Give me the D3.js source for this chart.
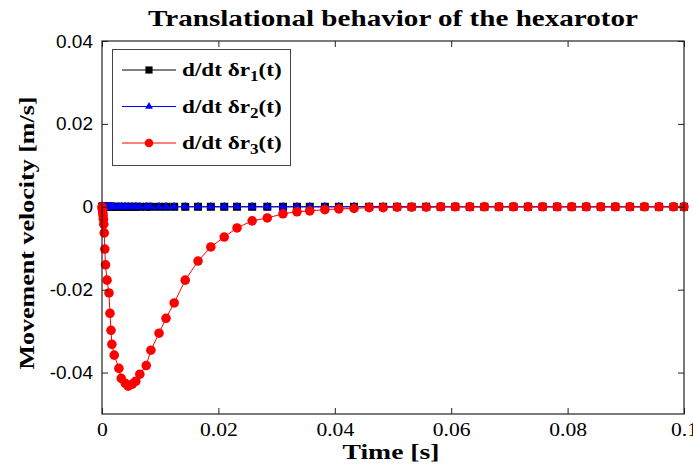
<!DOCTYPE html>
<html>
<head>
<meta charset="utf-8">
<script src="https://cdn.jsdelivr.net/npm/d3@7"></script>
<style>
  body { margin: 0; background: #fff; }
  svg { display: block; }
</style>
</head>
<body>
<svg id="chart" width="693" height="465"></svg>
<script>
// shared time vector [s]
var time = [0, 0.00004, 0.00008, 0.00013, 0.00018, 0.00024, 0.0003, 0.00038, 0.00048, 0.0006,
	0.00086, 0.0012, 0.00137, 0.00155, 0.0017, 0.0021, 0.0029, 0.0033, 0.0040, 0.0045,
	0.0052, 0.0058, 0.0065, 0.0076, 0.0084, 0.0098, 0.0110, 0.0124, 0.0143, 0.0165,
	0.0187, 0.0210, 0.0232, 0.0258, 0.0284, 0.0311, 0.0335, 0.0357, 0.0383, 0.0407,
	0.0433, 0.0459, 0.0483, 0.0507, 0.0532, 0.0557, 0.0582, 0.0607, 0.0632, 0.0657,
	0.0682, 0.0707, 0.0732, 0.0757, 0.0782, 0.0807, 0.0832, 0.0857, 0.0882, 0.0907,
	0.0932, 0.0957, 0.0982, 0.1]

var r1 = [0, 0, 0, 0, 0, 0, 0, 0, 0, 0,
	0, 0, 0, 0, 0, 0, 0, 0, 0, 0,
	0, 0, 0, 0, 0, 0, 0, 0, 0, 0,
	0, 0, 0, 0, 0, 0, 0, 0, 0, 0,
	0, 0, 0, 0, 0, 0, 0, 0, 0, 0,
	0, 0, 0, 0, 0, 0, 0, 0, 0, 0,
	0, 0, 0, 0]

var r2 = [0, 0, 0, 0, 0, 0, 0, 0, 0, 0,
	0, 0, 0, 0, 0, 0, 0, 0, 0, 0,
	0, 0, 0, 0, 0, 0, 0, 0, 0, 0,
	0, 0, 0, 0, 0, 0, 0, 0, 0, 0,
	0, 0, 0, 0, 0, 0, 0, 0, 0, 0,
	0, 0, 0, 0, 0, 0, 0, 0, 0, 0,
	0, 0, 0, 0]

var r3 = [0, -0.0003, -0.0008, -0.0014, -0.0021, -0.0030, -0.0042, -0.0063, -0.0102, -0.0140,
	-0.0177, -0.0208, -0.0257, -0.0298, -0.0332, -0.0358, -0.0390, -0.0414, -0.0426, -0.0433,
	-0.0428, -0.0421, -0.0404, -0.0383, -0.0346, -0.0305, -0.0269, -0.0232, -0.0177, -0.0131,
	-0.0097, -0.0073, -0.0051, -0.0034, -0.0027, -0.0017, -0.0012, -0.0010, -0.0007, -0.0005,
	-0.0004, -0.0002, -0.0002, -0.0001, -0.0001, -0.0001, 0, 0, 0, 0,
	0, 0, 0, 0, 0, 0, 0, 0, 0, 0,
	0, 0, 0, 0]

var xTicks = [0, 0.02, 0.04, 0.06, 0.08, 0.1]
var xTickLabels = ["0", "0.02", "0.04", "0.06", "0.08", "0.1"]
var yTicks = [0.04, 0.02, 0, -0.02, -0.04]
var yTickLabels = ["0.04", "0.02", "0", "-0.02", "-0.04"]

var seriesNames = ["1", "2", "3"]
var seriesColors = ["#000000", "#0000ff", "#ff0000"]
var seriesShapes = [d3.symbolSquare, d3.symbolTriangle, d3.symbolCircle]
var seriesSizes = [64, 34, 72]

var series = [r1, r2, r3].map((vals, i) => ({
	name: seriesNames[i],
	color: seriesColors[i],
	shape: seriesShapes[i],
	size: seriesSizes[i],
	points: time.map((t, j) => ({t: t, v: vals[j]}))
}))

var svg = d3.select("#chart"),
	margin = {top: 41, left: 102, bottom: 51, right: 9},
	width = +svg.attr("width"),
	height = +svg.attr("height");

var x = d3.scaleLinear()
	.domain([0, 0.1])
	.range([margin.left, width - margin.right])

var y = d3.scaleLinear()
	.domain([-0.05, 0.04])
	.range([height - margin.bottom, margin.top])

var serif = "'Liberation Serif', 'Times New Roman', serif",
	sans = "'Liberation Sans', Arial, sans-serif";

var line = d3.line()
	.x(d => x(d.t))
	.y(d => y(d.v))

// plotted in order: black, blue, red on top
series.forEach(s => {
	svg.append("path")
		.datum(s.points)
		.attr("fill", "none")
		.attr("stroke", s.color)
		.attr("stroke-width", 1)
		.attr("d", line)

	svg.append("g").selectAll("path")
		.data(s.points)
	.enter().append("path")
		.attr("transform", d => `translate(${x(d.t)},${y(d.v)})`)
		.attr("d", d3.symbol().type(s.shape).size(s.size))
		.attr("fill", s.color)
})

// axes (box with inward ticks)
var axisColor = "#222"

svg.append("g")
	.attr("transform", `translate(0,${height - margin.bottom})`)
	.call(d3.axisBottom(x).tickValues(xTicks).tickSizeInner(-6).tickSizeOuter(0).tickFormat((d, i) => xTickLabels[i]))
	.call(g => g.select(".domain").remove())
	.call(g => g.selectAll("line").attr("stroke", axisColor))
	.call(g => g.selectAll("text").attr("y", 9).attr("transform", "scale(1.2,1)")
		.attr("font-family", serif).attr("font-size", 18).attr("fill", "#000"))

svg.append("g")
	.attr("transform", `translate(0,${margin.top})`)
	.call(d3.axisTop(x).tickValues(xTicks).tickSizeInner(-6).tickSizeOuter(0).tickFormat(""))
	.call(g => g.select(".domain").remove())
	.call(g => g.selectAll("line").attr("stroke", axisColor))

svg.append("g")
	.attr("transform", `translate(${margin.left},0)`)
	.call(d3.axisLeft(y).tickValues(yTicks).tickSizeInner(-6).tickSizeOuter(0).tickFormat((d, i) => yTickLabels[i]))
	.call(g => g.select(".domain").remove())
	.call(g => g.selectAll("line").attr("stroke", axisColor))
	.call(g => g.selectAll("text").attr("x", -9).attr("font-family", sans).attr("font-size", 19).attr("fill", "#000"))

svg.append("g")
	.attr("transform", `translate(${width - margin.right},0)`)
	.call(d3.axisRight(y).tickValues(yTicks).tickSizeInner(-6).tickSizeOuter(0).tickFormat(""))
	.call(g => g.select(".domain").remove())
	.call(g => g.selectAll("line").attr("stroke", axisColor))

svg.append("rect")
	.attr("x", margin.left)
	.attr("y", margin.top)
	.attr("width", width - margin.right - margin.left)
	.attr("height", height - margin.bottom - margin.top)
	.attr("fill", "none")
	.attr("stroke", axisColor)
	.attr("stroke-width", 1.2)

// title and axis labels
svg.append("text")
	.attr("x", 393)
	.attr("y", 26)
	.attr("text-anchor", "middle")
	.attr("font-family", serif)
	.attr("font-weight", "bold")
	.attr("font-size", 23)
	.attr("textLength", 490)
	.attr("lengthAdjust", "spacingAndGlyphs")
	.text("Translational behavior of the hexarotor")

svg.append("text")
	.attr("x", 391)
	.attr("y", 459)
	.attr("text-anchor", "middle")
	.attr("font-family", serif)
	.attr("font-weight", "bold")
	.attr("font-size", 22)
	.attr("textLength", 97)
	.attr("lengthAdjust", "spacingAndGlyphs")
	.text("Time [s]")

svg.append("text")
	.attr("transform", "translate(34,233) rotate(-90)")
	.attr("text-anchor", "middle")
	.attr("font-family", serif)
	.attr("font-weight", "bold")
	.attr("font-size", 22)
	.attr("textLength", 273)
	.attr("lengthAdjust", "spacingAndGlyphs")
	.text("Movement velocity [m/s]")

// legend
var legend = svg.append("g")

legend.append("rect")
	.attr("x", 112.5)
	.attr("y", 49.5)
	.attr("width", 178)
	.attr("height", 116)
	.attr("fill", "#fff")
	.attr("stroke", "#444")

var rows = legend.selectAll("g.row")
	.data(series)
.enter().append("g")
	.attr("class", "row")
	.attr("transform", (d, i) => `translate(0,${70 + i * 36.5})`)

rows.append("line")
	.attr("x1", 122).attr("x2", 176)
	.attr("stroke", d => d.color)

rows.append("path")
	.attr("transform", "translate(149,0)")
	.attr("d", d => d3.symbol().type(d.shape).size(d.size * 0.8)())
	.attr("fill", d => d.color)

var label = rows.append("text")
	.attr("transform", "translate(182,6) scale(1.22,1)")
	.attr("font-family", serif)
	.attr("font-weight", "bold")
	.attr("font-size", 19)

label.append("tspan").text("d/dt \u03b4r")
label.append("tspan").attr("dy", 5).attr("font-size", 14).text(d => d.name)
label.append("tspan").attr("dy", -5).text("(t)")
</script>
</body>
</html>
